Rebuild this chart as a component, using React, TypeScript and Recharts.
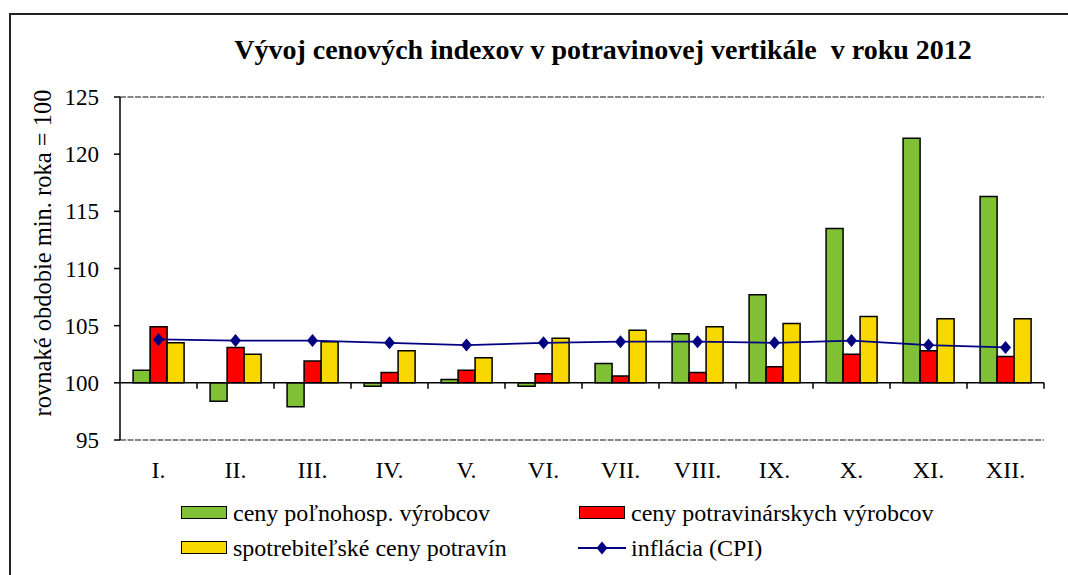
import React from "react";
import {
  ComposedChart,
  Bar,
  Line,
  XAxis,
  YAxis,
  CartesianGrid,
  ReferenceLine,
} from "recharts";

const months = ["I.", "II.", "III.", "IV.", "V.", "VI.", "VII.", "VIII.", "IX.", "X.", "XI.", "XII."];
const agriProducers = [101.1, 98.4, 97.9, 99.7, 100.3, 99.7, 101.7, 104.3, 107.7, 113.5, 121.4, 116.3];
const foodProducers = [104.9, 103.1, 101.9, 100.9, 101.1, 100.8, 100.6, 100.9, 101.4, 102.5, 102.8, 102.3];
const consumerFood = [103.5, 102.5, 103.6, 102.8, 102.2, 103.9, 104.6, 104.9, 105.2, 105.8, 105.6, 105.6];
const cpi = [103.8, 103.7, 103.7, 103.5, 103.3, 103.5, 103.6, 103.6, 103.5, 103.7, 103.3, 103.1];
const yTicks = [95, 100, 105, 110, 115, 120, 125];
const gridValues = [105, 110, 115, 120];
const baseIndex = 100;

const FONT = "Liberation Serif, Tinos, DejaVu Serif, Noto Serif, FreeSerif, serif";
const GREEN = "#7FC034";
const RED = "#FF0000";
const YELLOW = "#F9D800";
const NAVY = "#000080";

const W = 1068;
const H = 575;
const M = { top: 97, right: 24, bottom: 95, left: 60 };
const Y_AXIS_W = 60;
const plotLeft = M.left + Y_AXIS_W;
const plotW = W - plotLeft - M.right;
const plotH = H - M.top - M.bottom - 40;
const band = plotW / months.length;
const y100 = M.top + (plotH * (125 - baseIndex)) / (125 - 95);

const range = (v: number) => [Math.min(baseIndex, v), Math.max(baseIndex, v)];

const data = months.map((m, i) => ({
  month: m,
  agri: range(agriProducers[i]),
  food: range(foodProducers[i]),
  consumer: range(consumerFood[i]),
  cpi: cpi[i],
}));

function MonthTick(props: any) {
  const { x, payload } = props;
  const edge = x + band / 2;
  return (
    <g>
      <line x1={edge} x2={edge} y1={y100} y2={y100 + 6} stroke="#000" strokeWidth={1.5} />
      <text x={x} y={M.top + plotH + 38} textAnchor="middle" fontSize={24} fontFamily={FONT} fill="#000">
        {payload.value}
      </text>
    </g>
  );
}

function Diamond(props: any) {
  const { cx, cy } = props;
  if (cx == null || cy == null) return null;
  return (
    <polygon
      points={`${cx},${cy - 6.5} ${cx + 5.5},${cy} ${cx},${cy + 6.5} ${cx - 5.5},${cy}`}
      fill={NAVY}
    />
  );
}

const legendText: React.CSSProperties = {
  position: "absolute",
  fontFamily: FONT,
  fontSize: 24,
  lineHeight: "28px",
  whiteSpace: "nowrap",
  color: "#000",
};

function LegendBox({ left, top, color }: { left: number; top: number; color: string }) {
  return (
    <div
      style={{
        position: "absolute",
        left,
        top,
        width: 44,
        height: 11,
        background: color,
        border: "1.5px solid #000",
      }}
    />
  );
}

export default function App() {
  return (
    <div style={{ position: "fixed", left: 0, top: 0, width: W, height: H, overflow: "hidden", background: "#fff" }}>
      <div
        style={{
          position: "absolute",
          left: 9,
          top: 13,
          width: 1200,
          height: 700,
          borderLeft: "2px solid #222",
          borderTop: "2px solid #222",
        }}
      />
      <div
        style={{
          position: "absolute",
          left: 603,
          top: 34,
          transform: "translateX(-50%)",
          fontFamily: FONT,
          fontWeight: 700,
          fontSize: 28,
          lineHeight: "32px",
          whiteSpace: "nowrap",
          color: "#000",
        }}
      >
        Vývoj cenových indexov v potravinovej vertikále&nbsp; v roku 2012
      </div>
      <div
        style={{
          position: "absolute",
          left: 43,
          top: 253,
          transform: "translate(-50%, -50%) rotate(-90deg)",
          fontFamily: FONT,
          fontSize: 24.5,
          lineHeight: "28px",
          whiteSpace: "nowrap",
          color: "#000",
        }}
      >
        rovnaké obdobie min. roka = 100
      </div>
      <div style={{ position: "absolute", left: 0, top: 0 }}>
        <ComposedChart
          width={W}
          height={H}
          data={data}
          margin={M}
          barCategoryGap="17%"
          barGap={0}
        >
          <CartesianGrid
            horizontal
            vertical={false}
            horizontalValues={gridValues}
            stroke="#000"
            strokeWidth={1.3}
            strokeDasharray="6 3"
          />
          <XAxis
            dataKey="month"
            height={40}
            axisLine={{ stroke: "#888", strokeWidth: 2, strokeDasharray: "6 1.5" }}
            tickLine={false}
            tick={<MonthTick />}
            interval={0}
          />
          <YAxis
            yAxisId="left"
            width={Y_AXIS_W}
            domain={[95, 125]}
            ticks={yTicks}
            allowDataOverflow
            axisLine={{ stroke: "#000", strokeWidth: 1.5 }}
            tickLine={{ stroke: "#000", strokeWidth: 1.5 }}
            tickSize={6}
            tickMargin={15}
            tick={{ fill: "#000", fontSize: 23, fontFamily: FONT }}
          />
          <YAxis
            yAxisId="right"
            orientation="right"
            width={0}
            domain={[95, 125]}
            tick={false}
            tickLine={false}
            axisLine={{ stroke: "#888", strokeWidth: 2 }}
          />
          <ReferenceLine yAxisId="left" y={125} stroke="#888" strokeWidth={2} strokeDasharray="6 1.5" />
          <Bar yAxisId="left" dataKey="agri" fill={GREEN} stroke="#000" strokeWidth={1.5} isAnimationActive={false} />
          <Bar yAxisId="left" dataKey="food" fill={RED} stroke="#000" strokeWidth={1.5} isAnimationActive={false} />
          <Bar yAxisId="left" dataKey="consumer" fill={YELLOW} stroke="#000" strokeWidth={1.5} isAnimationActive={false} />
          <ReferenceLine yAxisId="left" y={baseIndex} stroke="#000" strokeWidth={1.5} />
          <Line
            yAxisId="left"
            dataKey="cpi"
            type="linear"
            stroke={NAVY}
            strokeWidth={1.8}
            dot={<Diamond />}
            activeDot={false}
            isAnimationActive={false}
          />
        </ComposedChart>
      </div>

      <LegendBox left={181} top={506} color={GREEN} />
      <div style={{ ...legendText, left: 233, top: 499 }}>ceny poľnohosp. výrobcov</div>
      <LegendBox left={579} top={506} color={RED} />
      <div style={{ ...legendText, left: 631, top: 499 }}>ceny potravinárskych výrobcov</div>
      <LegendBox left={181} top={541} color={YELLOW} />
      <div style={{ ...legendText, left: 233, top: 534 }}>spotrebiteľské ceny potravín</div>
      <svg style={{ position: "absolute", left: 576, top: 539 }} width={54} height={18}>
        <line x1={2} x2={50} y1={9} y2={9} stroke={NAVY} strokeWidth={2} />
        <polygon points="26,2.5 31.5,9 26,15.5 20.5,9" fill={NAVY} />
      </svg>
      <div style={{ ...legendText, left: 631, top: 534 }}>inflácia (CPI)</div>
    </div>
  );
}
